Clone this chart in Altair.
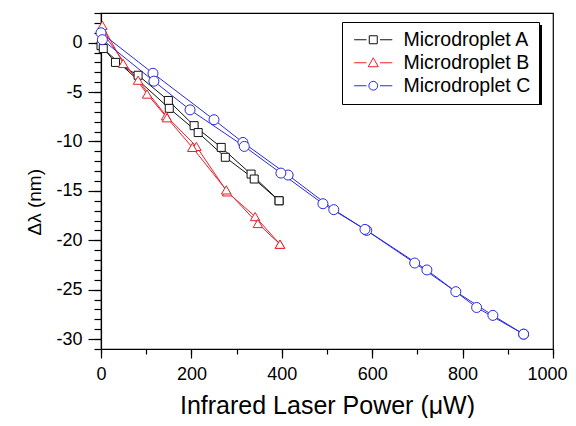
import altair as alt
import pandas as pd

series_names = ["Microdroplet A", "Microdroplet B", "Microdroplet C"]
series_colors = ["#111111", "#e8202a", "#2a2ae0"]
marker_shapes = ["square", "triangle-up", "circle"]
marker_sizes = [64, 90, 100]

# Microdroplet A: two sweeps
a1_x = [0, 32, 82, 149, 206, 266, 332, 394]
a1_y = [-0.3, -2.0, -3.3, -5.85, -8.4, -10.6, -13.3, -16.0]
a2_x = [5, 151, 215, 275, 339, 394]
a2_y = [-0.6, -6.65, -9.1, -11.6, -13.8, -16.0]

# Microdroplet B: two sweeps
b1_x = [3, 49, 82, 144, 211, 279, 341, 396]
b1_y = [1.75, -2.1, -3.8, -7.4, -10.5, -15.1, -17.6, -20.4]
b2_x = [5, 102, 146, 202, 277, 347, 396]
b2_y = [0.94, -5.2, -7.6, -10.6, -14.9, -18.3, -20.4]

# Microdroplet C: two sweeps
c1_x = [0, 115, 250, 314, 414, 515, 588, 721, 831, 935]
c1_y = [1.0, -3.1, -7.8, -10.1, -13.4, -16.9, -19.0, -23.0, -26.8, -29.5]
c2_x = [3, 117, 197, 317, 398, 491, 584, 694, 785, 867, 935]
c2_y = [0.3, -3.9, -6.8, -10.5, -13.2, -16.3, -18.9, -22.3, -25.2, -27.6, -29.5]

x_ticks = [0, 200, 400, 600, 800, 1000]
x_minor = [0, 100, 200, 300, 400, 500, 600, 700, 800, 900, 1000]
y_ticks = [0, -5, -10, -15, -20, -25, -30]
y_minor = [3, 2, 1, 0, -1, -2, -3, -4, -5, -6, -7, -8, -9, -10, -11, -12, -13,
           -14, -15, -16, -17, -18, -19, -20, -21, -22, -23, -24, -25, -26,
           -27, -28, -29, -30, -31]

rows = []
for name, sweeps in [
    ("Microdroplet A", [(a1_x, a1_y), (a2_x, a2_y)]),
    ("Microdroplet B", [(b1_x, b1_y), (b2_x, b2_y)]),
    ("Microdroplet C", [(c1_x, c1_y), (c2_x, c2_y)]),
]:
    for k, (xs_, ys_) in enumerate(sweeps):
        for xv, yv in zip(xs_, ys_):
            rows.append({"series": name, "sweep": f"{name}-{k}", "x": xv, "y": yv})
df = pd.DataFrame(rows)

# legend glyphs "—□—", "—△—", "—○—" (drawn relative to a 16px symbol box)
legend_paths = [
    "M-0.7,0H0.845M2.525,0H4.07M1.1875,-0.5H2.1875V0.5H1.1875Z",
    "M-0.7,0H0.845M2.525,0H4.07M1.6875,-0.62L2.3125,0.5L1.0625,0.5Z",
    "M-0.7,0H0.845M2.525,0H4.07M2.2375,0A0.55,0.55 0 1,1 1.1375,0A0.55,0.55 0 1,1 2.2375,0Z",
]

FONT = "Liberation Sans"
xs = alt.Scale(domain=[0, 1000], nice=False, zero=False)
ys = alt.Scale(domain=[-31, 3], nice=False, zero=False)
cs = alt.Scale(domain=series_names, range=series_colors)

main_x_axis = alt.Axis(
    orient="bottom", values=x_ticks, tickSize=9, tickWidth=1.2, domainWidth=1.2,
    labelFontSize=18, labelPadding=7, labelFlush=False, labelExpr="'' + datum.value",
    labelOffset={"condition": {"test": "datum.value === 1000", "value": -6}, "value": 0},
    title="Infrared Laser Power (μW)", titleFontSize=25, titleFontWeight="normal",
    titleY=64, titleBaseline="alphabetic", grid=False,
)
minor_x_axis = alt.Axis(
    orient="bottom", values=x_minor, tickSize=5, tickWidth=1.2, domain=False,
    labels=False, title=None, grid=False,
)
main_y_axis = alt.Axis(
    orient="left", values=y_ticks, tickSize=13, tickWidth=1.2, domainWidth=1.2,
    labelFontSize=18, labelPadding=6, labelExpr="'' + datum.value",
    title="Δλ (nm)", titleFontSize=19, titleFontWeight="normal", titleAngle=270,
    titleX=-61, titleY=222, titleBaseline="alphabetic", titleAlign="left", grid=False,
)
minor_y_axis = alt.Axis(
    orient="left", values=y_minor, tickSize=7, tickWidth=1.2, domain=False,
    labels=False, title=None, grid=False,
)

base = alt.Chart(df)

line_layers = []
point_layers = []
for i, (name, col, shp, sz) in enumerate(zip(series_names, series_colors, marker_shapes, marker_sizes)):
    sub = base.transform_filter(alt.datum.series == name)
    line_layers.append(
        sub.mark_line(strokeWidth=1, color=col).encode(
            x=alt.X("x:Q", scale=xs, axis=main_x_axis if i == 0 else None),
            y=alt.Y("y:Q", scale=ys, axis=main_y_axis if i == 0 else None),
            detail="sweep:N",
            order="x:Q",
        )
    )
    point_layers.append(
        sub.mark_point(shape=shp, size=sz, filled=False, fill="white", stroke=col,
                       strokeWidth=1, opacity=1)
        .encode(
            x=alt.X("x:Q", scale=xs, axis=None),
            y=alt.Y("y:Q", scale=ys, axis=None),
        )
    )

# drop shadow behind the legend box (decoration)
shadow = alt.Chart(pd.DataFrame({"k": [0]})).mark_rect(color="black").encode(
    x=alt.value(244), x2=alt.value(441), y=alt.value(12), y2=alt.value(92)
)

leg = alt.Legend(
    orient="none", legendX=241, legendY=9, title=None,
    labelFont=FONT, labelFontSize=19.5, labelColor="black", labelOffset=34,
    labelExpr="datum.label + ' '",
    symbolSize=256, symbolStrokeWidth=1, symbolFillColor="transparent",
    symbolOpacity=1, rowPadding=2, padding=8,
    strokeColor="black", fillColor="white",
)

legend_layer = base.transform_filter("false").mark_point(filled=False).encode(
    x=alt.X("x:Q", scale=xs, axis=minor_x_axis),
    y=alt.Y("y:Q", scale=ys, axis=minor_y_axis),
    color=alt.Color("series:N", scale=cs, legend=leg),
    shape=alt.Shape("series:N", scale=alt.Scale(domain=series_names, range=legend_paths), legend=leg),
)

chart = alt.layer(*line_layers, *point_layers, shadow, legend_layer).resolve_axis(
    x="independent", y="independent"
).properties(
    width=452, height=336,
    autosize=alt.AutoSizeParams(type="none"),
    padding={"left": 93, "top": 5, "right": 15, "bottom": 69},
).configure_view(
    stroke="black", strokeWidth=1.2
).configure_axis(
    domainColor="black", tickColor="black", labelColor="black", titleColor="black",
    labelFont=FONT, titleFont=FONT,
).configure_legend(
    labelFont=FONT
)

chart.save("out.html", embed_options={"renderer": "svg", "actions": False})
